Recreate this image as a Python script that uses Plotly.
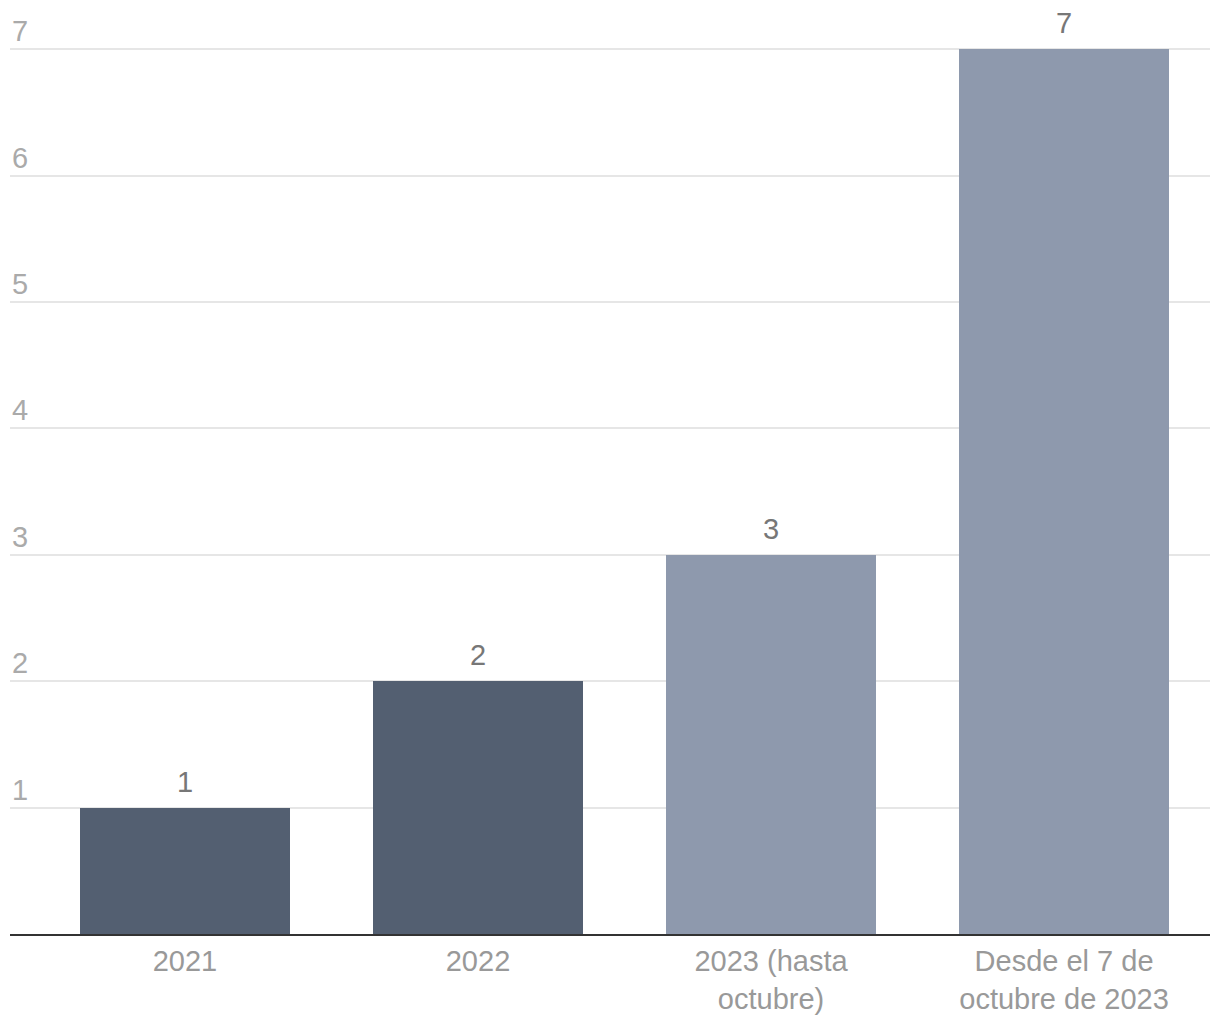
import plotly.graph_objects as go

categories = ["2021", "2022", "2023 (hasta<br>octubre)", "Desde el 7 de<br>octubre de 2023"]
values = [1, 2, 3, 7]
bar_colors = ["#535f71", "#535f71", "#8e99ad", "#8e99ad"]
y_ticks = [1, 2, 3, 4, 5, 6, 7]

xpos = list(range(len(categories)))
FONT = "Liberation Sans, Arial, sans-serif"

fig = go.Figure()
fig.add_trace(go.Bar(
    x=xpos, y=values, width=0.717,
    marker=dict(color=bar_colors, line=dict(width=0)),
    hoverinfo="skip",
))

for xv, v in zip(xpos, values):
    fig.add_annotation(x=xv, y=v, xref="x", yref="y", yanchor="bottom",
                       text=str(v), showarrow=False, yshift=8,
                       font=dict(family=FONT, size=29, color="#777777"))

for t in y_ticks:
    fig.add_annotation(x=0, xref="paper", xanchor="left", y=t, yref="y",
                       yanchor="bottom", text=str(t), showarrow=False, yshift=0,
                       font=dict(family=FONT, size=29, color="#aaaaaa"))

fig.update_layout(
    width=1220, height=1020,
    margin=dict(l=2, r=18, t=35, b=94),
    paper_bgcolor="white", plot_bgcolor="white",
    showlegend=False, bargap=0,
    font=dict(family=FONT),
    xaxis=dict(range=[-0.597, 3.498], tickvals=xpos, ticktext=categories,
               tickfont=dict(family=FONT, size=29, color="#999999"),
               showgrid=False, zeroline=False, showline=True,
               linecolor="#333333", linewidth=2, ticks="", fixedrange=True),
    yaxis=dict(range=[0, 7.05], tickvals=y_ticks, showticklabels=False,
               showgrid=True, gridcolor="#e6e6e6", gridwidth=2,
               zeroline=False, showline=False, fixedrange=True),
)

fig.write_html("out.html")
